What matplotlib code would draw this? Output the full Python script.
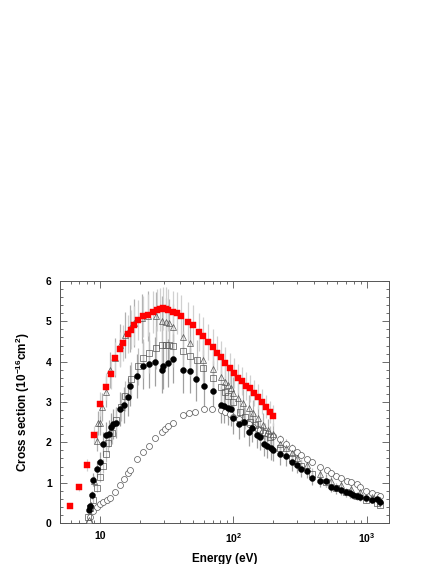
import numpy as np
import matplotlib
matplotlib.use("Agg")
import matplotlib.pyplot as plt
from matplotlib.ticker import FixedLocator, FuncFormatter, MultipleLocator, LogLocator, NullFormatter

plt.rcParams['font.family'] = ['Liberation Sans', 'DejaVu Sans']
plt.rcParams['mathtext.fontset'] = 'custom'
plt.rcParams['mathtext.rm'] = 'Liberation Sans:bold'
plt.rcParams['mathtext.it'] = 'Liberation Sans:bold'
plt.rcParams['mathtext.bf'] = 'Liberation Sans:bold'

# red filled squares
red_e = [5.96, 6.96, 7.99, 9.02, 10.0, 11.1, 12.0, 13.0, 14.1, 14.9, 16.1, 17.1, 18.1, 19.1,
         21.1, 23.0, 24.8, 26.6, 28.2, 29.5, 31.1, 32.5, 35.1, 37.6, 40.3, 45.4, 50.0, 55.2,
         59.6, 64.9, 70.0, 75.0, 80.5, 86.6, 94.6, 101, 109, 117, 125, 133, 142, 152, 163,
         175, 188, 199]
red_y = [0.42, 0.89, 1.44, 2.18, 2.95, 3.38, 3.69, 4.08, 4.31, 4.47, 4.68, 4.79, 4.90, 5.03,
         5.12, 5.16, 5.24, 5.28, 5.30, 5.32, 5.31, 5.28, 5.24, 5.21, 5.13, 4.99, 4.91, 4.73,
         4.64, 4.48, 4.37, 4.22, 4.11, 3.97, 3.84, 3.71, 3.59, 3.52, 3.40, 3.34, 3.23, 3.13,
         3.01, 2.88, 2.76, 2.66]

# open triangles
tri_e = [8.2, 8.6, 9.0, 9.43, 9.7, 10.0, 10.4, 11.1, 11.9, 13.0, 14.1, 15.4, 16.8, 18.1, 20.5,
         23.0, 26.3, 29.0, 31.1, 32.9, 35.1, 42.1, 47.3, 59.6, 70.0, 80.5, 86.6, 91.6, 95.3,
         100, 109, 119, 130, 141, 154, 167, 183, 200, 224, 247, 274, 302, 360, 445, 545,
         647, 770, 890, 1090, 1260]
tri_y = [0.07, 0.45, 1.05, 2.04, 2.47, 2.49, 2.88, 3.26, 3.79, 4.10, 4.41, 4.66, 4.83, 4.95, 5.08,
         5.13, 5.12, 5.02, 4.99, 4.95, 4.85, 4.62, 4.47, 4.04, 3.81, 3.61, 3.50, 3.42, 3.34,
         3.23, 3.11, 2.97, 2.84, 2.72, 2.60, 2.43, 2.31, 2.21, 1.95, 1.86, 1.74, 1.62, 1.45,
         1.22, 1.05, 0.95, 0.85, 0.78, 0.64, 0.56]

# open squares
sq_e = [8.1, 8.4, 8.9, 9.55, 10.0, 10.5, 11.1, 11.5, 12.2, 13.2, 14.4, 15.4, 17.1, 19.2, 21.1,
        23.3, 26.3, 29.0, 31.1, 32.9, 35.1, 42.1, 47.3, 53.2, 59.6, 70.0, 80.5, 86.6, 91.6,
        99.3, 112, 122, 133, 145, 158, 172, 188, 224, 274, 324, 392, 495, 593, 700, 843,
        990, 1190, 1260]
sq_y = [0.16, 0.36, 0.57, 0.86, 1.15, 1.41, 1.71, 1.99, 2.22, 2.55, 2.88, 3.15, 3.57, 3.88, 4.08,
        4.22, 4.35, 4.41, 4.41, 4.41, 4.39, 4.26, 4.14, 4.04, 3.84, 3.59, 3.38, 3.26, 3.15,
        3.01, 2.76, 2.64, 2.51, 2.43, 2.31, 2.22, 2.14, 1.85, 1.62, 1.42, 1.22, 1.02, 0.86,
        0.76, 0.66, 0.57, 0.49, 0.45]

# filled black circles
bc_e = [8.2, 8.4, 8.66, 8.9, 9.43, 10.0, 10.5, 11.1, 11.7, 12.1, 12.6, 13.1, 14.1, 15.1, 16.2,
        16.9, 19.0, 21.1, 23.3, 25.9, 29.0, 29.8, 32.5, 35.1, 42.1, 47.3, 52.5, 60.3, 70.7,
        80.5, 85, 91.6, 95.3, 100, 110, 120, 132, 139, 150, 158, 171, 179, 191, 200, 224,
        247, 274, 298, 324, 360, 392, 445, 495, 545, 593, 647, 700, 750, 795, 843, 890,
        990, 1090, 1190, 1260]
bc_y = [0.32, 0.42, 0.69, 1.07, 1.33, 1.52, 1.96, 2.18, 2.21, 2.37, 2.45, 2.49, 2.82, 2.93, 3.13,
        3.40, 3.64, 3.90, 3.94, 4.00, 3.79, 3.90, 3.97, 4.07, 3.79, 3.78, 3.57, 3.40, 3.28,
        2.93, 2.91, 2.86, 2.83, 2.60, 2.45, 2.51, 2.26, 2.35, 2.18, 2.14, 1.96, 1.91, 1.85,
        1.81, 1.70, 1.67, 1.52, 1.45, 1.35, 1.30, 1.11, 1.04, 1.05, 0.90, 0.86, 0.82, 0.76,
        0.74, 0.69, 0.67, 0.64, 0.63, 0.57, 0.60, 0.53]

# open circles
oc_e = [8.2, 8.4, 8.8, 9.4, 10.0, 10.6, 11.2, 11.9, 13.0, 14.1, 15.1, 16.3, 16.9, 19.0, 21.1,
        23.3, 25.9, 29.3, 30.7, 32.5, 35.1, 41.6, 46.7, 51.6, 60.3, 69.5, 80.5, 86.6, 94.6,
        100, 110, 119, 130, 141, 154, 167, 183, 200, 224, 247, 274, 302, 324, 360, 392,
        445, 500, 545, 593, 647, 707, 770, 843, 890, 990, 1090, 1190, 1260]
oc_y = [0.03, 0.16, 0.30, 0.39, 0.47, 0.53, 0.57, 0.61, 0.78, 0.94, 1.08, 1.23, 1.31, 1.59, 1.77,
        1.91, 2.10, 2.26, 2.32, 2.41, 2.49, 2.68, 2.72, 2.76, 2.82, 2.82, 2.80, 2.76, 2.69,
        2.64, 2.58, 2.51, 2.45, 2.39, 2.32, 2.26, 2.20, 2.16, 2.08, 1.96, 1.85, 1.77, 1.69,
        1.58, 1.52, 1.40, 1.31, 1.23, 1.17, 1.11, 1.05, 1.01, 0.96, 0.90, 0.80, 0.75, 0.69,
        0.68]

# relative errors per series
red_rel = 0.10
tri_rel = 0.12
sq_rel = 0.12
bc_rel = 0.15

xticks = [10, 100, 1000]
xtick_labels = ['10', r'$10^{2}$', r'$10^{3}$']


def main():
    fig = plt.figure(figsize=(4.36, 5.64), dpi=100)
    ax = fig.add_axes([0.1376, 0.0727, 0.7544, 0.4291])

    err_kw = dict(fmt='none', elinewidth=0.9, capsize=0, zorder=1)
    ax.errorbar(bc_e, bc_y, yerr=np.array(bc_y) * bc_rel, ecolor='#a0a0a0', **err_kw)
    ax.errorbar(tri_e, tri_y, yerr=np.array(tri_y) * tri_rel, ecolor='#b0b0b0', **err_kw)
    ax.errorbar(sq_e, sq_y, yerr=np.array(sq_y) * sq_rel, ecolor='#c0c0c0', **err_kw)
    ax.errorbar(red_e, red_y, yerr=np.array(red_y) * red_rel, ecolor='#d0d0d0', **err_kw)

    ms = 4.3
    ax.plot(oc_e, oc_y, 'o', ms=ms, mfc='white', mec='#555555', mew=0.5, zorder=3)
    ax.plot(sq_e, sq_y, 's', ms=ms, mfc='none', mec='#555555', mew=0.5, zorder=3)
    ax.plot(tri_e, tri_y, '^', ms=ms, mfc='none', mec='#555555', mew=0.5, zorder=3)
    ax.plot(bc_e, bc_y, 'o', ms=ms, mfc='black', mec='black', mew=0.3, zorder=4)
    ax.plot(red_e, red_y, 's', ms=ms, mfc='#ff0000', mec='#ff0000', mew=0.3, zorder=5)

    ax.set_xscale('log')
    ax.set_xlim(5.0, 1470)
    ax.set_ylim(0, 6)

    ax.xaxis.set_major_locator(FixedLocator(xticks))
    ax.xaxis.set_major_formatter(FuncFormatter(lambda v, p: xtick_labels[xticks.index(round(v))] if round(v) in xticks else ''))
    ax.xaxis.set_minor_locator(LogLocator(base=10, subs=np.arange(2, 10)))
    ax.xaxis.set_minor_formatter(NullFormatter())
    ax.yaxis.set_major_locator(MultipleLocator(1))
    ax.yaxis.set_minor_locator(MultipleLocator(0.2))

    ax.tick_params(which='both', direction='in', top=True, right=True, color='#555555', width=0.6)
    ax.tick_params(which='major', length=5, labelsize=7.5, pad=6)
    ax.tick_params(which='minor', length=2.5)
    for lab in ax.get_xticklabels() + ax.get_yticklabels():
        lab.set_fontweight('bold')
    for sp in ax.spines.values():
        sp.set_color('#555555')
        sp.set_linewidth(0.7)

    ax.set_xlabel('Energy (eV)', fontsize=8.5, fontweight='bold', labelpad=6)
    ax.set_ylabel(r'Cross section (10$^{-16}$cm$^{2}$)', fontsize=8.5, fontweight='bold', labelpad=10)

    fig.savefig('out.png', dpi=100)


if __name__ == "__main__":
    main()
